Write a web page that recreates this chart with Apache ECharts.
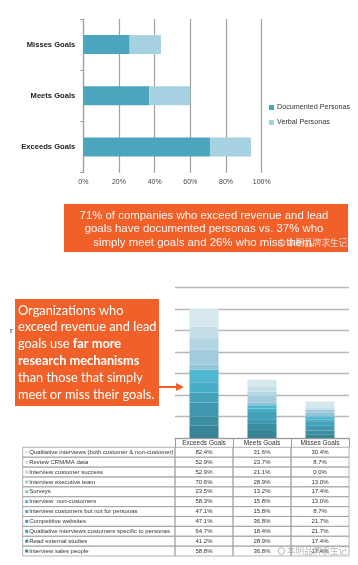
<!DOCTYPE html>
<html><head><meta charset="utf-8">
<script src="https://cdn.jsdelivr.net/npm/echarts@6/dist/echarts.min.js"></script>
<style>html,body{margin:0;padding:0;background:#fff}#c{width:358px;height:565px}</style>
</head><body><div id="c"></div>
<script>
// ---- Top chart data ----
const goalCats = ['Exceeds Goals', 'Meets Goals', 'Misses Goals'];
const documentedPct = [71, 37, 26];
const verbalPct = [23, 23, 17.5];
const pctTicks = [0, 20, 40, 60, 80, 100];

// ---- Bottom chart / table data ----
const methods = [
  'Qualitative interviews (both customer & non-customer)',
  'Review CRM/MA data',
  'Interview customer success',
  'Interview executive team',
  'Surveys',
  'Interview  non-customers',
  'Interview customers but not for personas',
  'Competitive websites',
  'Qualitative interviews customers specific to personas',
  'Read external studies',
  'Interview sales people'
];
const exceedsVals = [82.4, 52.9, 52.9, 70.6, 23.5, 58.3, 47.1, 47.1, 64.7, 41.2, 58.8];
const meetsVals   = [31.6, 23.7, 21.1, 28.9, 13.2, 15.8, 15.8, 36.8, 18.4, 28.9, 36.8];
const missesVals  = [30.4, 8.7, 0.0, 13.0, 17.4, 13.0, 8.7, 21.7, 21.7, 17.4, 17.4];
const stackTicks = [0, 100, 200, 300, 400, 500, 600, 700];

const noteTop = ['71% of companies who exceed revenue and lead',
  'goals have documented personas vs. 37% who',
  'simply meet goals and 26% who miss them.'];
const watermark = '本明品牌求生记';

// styles
const methodColors = ['#D6E7EE', '#C6DEE8', '#B4D5E2', '#A2CCDD', '#91C4D8',
  '#50B7D1', '#48ADC6', '#43A2BA', '#3F98AE', '#3B8EA2', '#378497'];
const ORANGE = '#F2602A';

const chart = echarts.init(document.getElementById('c'), null, {renderer: 'canvas'});

const series = [
  {name: 'Documented Personas', type: 'bar', stack: 'p', xAxisIndex: 0, yAxisIndex: 0,
   barWidth: 19, itemStyle: {color: '#4BA6BD'}, data: documentedPct},
  {name: 'Verbal Personas', type: 'bar', stack: 'p', xAxisIndex: 0, yAxisIndex: 0,
   barWidth: 19, itemStyle: {color: '#A6D1E0'}, data: verbalPct}
];
for (let i = methods.length - 1; i >= 0; i--) {
  series.push({
    name: methods[i], type: 'bar', stack: 'r', xAxisIndex: 1, yAxisIndex: 1,
    barWidth: '50%', itemStyle: {color: methodColors[i]},
    data: [exceedsVals[i], meetsVals[i], missesVals[i]]
  });
}

const FONT = 'Liberation Sans, Arial, sans-serif';

chart.setOption({
  animation: false,
  textStyle: {fontFamily: FONT},
  grid: [
    {left: 83.3, width: 178.4, top: 19, height: 153.7},
    {left: 175, width: 174, top: 287.3, height: 150.7}
  ],
  legend: {
    data: ['Documented Personas', 'Verbal Personas'], orient: 'vertical',
    left: 264, top: 99, itemWidth: 5, itemHeight: 5, itemGap: 8, icon: 'rect',
    textStyle: {fontSize: 7.2, color: '#333', padding: [0, 0, 0, -2]}
  },
  xAxis: [
    {type: 'value', gridIndex: 0, min: pctTicks[0], max: pctTicks[pctTicks.length - 1], interval: 20,
     axisLine: {show: false}, axisTick: {show: false},
     splitLine: {show: true, lineStyle: {color: '#A0A0A0', width: 1.2}},
     axisLabel: {formatter: '{value}%', fontSize: 7, color: '#444', margin: 6}},
    {type: 'category', gridIndex: 1, data: goalCats,
     axisLine: {show: true, lineStyle: {color: '#9A9A9A', width: 1}},
     axisTick: {show: true, length: 9.3, lineStyle: {color: '#9A9A9A'}},
     axisLabel: {fontSize: 6.5, color: '#333', margin: 1.5}}
  ],
  yAxis: [
    {type: 'category', gridIndex: 0, data: goalCats,
     axisLine: {show: true, lineStyle: {color: '#A0A0A0', width: 1.2}},
     axisTick: {show: true, length: 3, lineStyle: {color: '#A0A0A0'}},
     axisLabel: {fontSize: 7.6, fontWeight: 'bold', color: '#222', margin: 8}},
    {type: 'value', gridIndex: 1, min: stackTicks[0], max: stackTicks[stackTicks.length - 1], interval: 100,
     axisLine: {show: false}, axisTick: {show: false}, axisLabel: {show: false},
     splitLine: {show: true, lineStyle: {color: '#B8B8B8', width: 1.3}}}
  ],
  series: series
});

// ---- Build annotations and table from data ----
const g = [];
// Box 1
g.push({type: 'rect', shape: {x: 64, y: 204, width: 284, height: 48}, style: {fill: ORANGE}});
g.push({type: 'text', x: 204, y: 229, style: {
  text: noteTop.join('\n'), fill: '#FFF4EE', fontSize: 11.4, lineHeight: 13.6,
  fontFamily: FONT, align: 'center', verticalAlign: 'middle'}});
g.push({type: 'text', x: 287, y: 243, style: {text: watermark, fill: 'rgba(235,235,235,0.85)',
  fontSize: 8.6, fontFamily: 'Noto Sans CJK SC', verticalAlign: 'middle'}});
g.push({type: 'circle', shape: {cx: 281.5, cy: 243, r: 3.3}, style: {fill: 'none', stroke: 'rgba(220,220,220,0.9)', lineWidth: 1}});

// stray char
g.push({type: 'text', x: 10, y: 331, style: {text: 'r', fill: '#222', fontSize: 8, fontFamily: FONT, verticalAlign: 'middle'}});

// Box 2
g.push({type: 'rect', shape: {x: 15, y: 299, width: 144, height: 107}, style: {fill: ORANGE}});
g.push({type: 'text', x: 18, y: 352.5, style: {
  text: 'Organizations who\nexceed revenue and lead\ngoals use {b|far more}\n{b|research mechanisms}\nthan those that simply\nmeet or miss their goals.',
  fill: '#FFFFFF', fontSize: 12.8, lineHeight: 16.8, fontFamily: 'Lato, sans-serif',
  verticalAlign: 'middle', align: 'left',
  rich: {b: {fontWeight: 'bold', fontSize: 12.8, fill: '#FFFFFF', fontFamily: 'Lato, sans-serif', lineHeight: 16.8}}}});
// Arrow
g.push({type: 'line', shape: {x1: 159, y1: 387, x2: 178, y2: 387}, style: {stroke: ORANGE, lineWidth: 2}});
g.push({type: 'polygon', shape: {points: [[176, 383], [184, 387], [176, 391]]}, style: {fill: ORANGE}});

// Table
const centers = goalCats.map(c => chart.convertToPixel({xAxisIndex: 1}, c));
const bw = centers[1] - centers[0];
const colLeft = centers[0] - bw / 2;
const tLeft = 22.7, rowTop = 447.3, rowH = 9.88;
const cols = [exceedsVals, meetsVals, missesVals];
for (let r = 0; r < methods.length; r++) {
  const y = rowTop + r * rowH;
  g.push({type: 'rect', shape: {x: tLeft, y: y, width: colLeft - tLeft, height: rowH},
    style: {fill: 'none', stroke: '#A0A0A0', lineWidth: 0.8}});
  g.push({type: 'rect', shape: {x: tLeft + 2.5, y: y + rowH / 2 - 1.5, width: 3, height: 3},
    style: {fill: methodColors[r]}});
  g.push({type: 'text', x: tLeft + 6.5, y: y + rowH / 2, style: {text: methods[r], fill: '#333',
    fontSize: 6, fontFamily: FONT, verticalAlign: 'middle'}});
  for (let c = 0; c < 3; c++) {
    g.push({type: 'rect', shape: {x: centers[c] - bw / 2, y: y, width: bw, height: rowH},
      style: {fill: 'none', stroke: '#A0A0A0', lineWidth: 0.8}});
    g.push({type: 'text', x: centers[c], y: y + rowH / 2, style: {text: cols[c][r].toFixed(1) + '%',
      fill: '#333', fontSize: 6, fontFamily: FONT, align: 'center', verticalAlign: 'middle'}});
  }
}
g.push({type: 'text', x: 287, y: 551, style: {text: watermark, fill: 'rgba(160,160,160,0.75)',
  fontSize: 8.6, fontFamily: 'Noto Sans CJK SC', verticalAlign: 'middle'}});
g.push({type: 'circle', shape: {cx: 281.5, cy: 551, r: 3.3}, style: {fill: 'none', stroke: 'rgba(170,170,170,0.8)', lineWidth: 1}});

chart.setOption({graphic: g});
</script></body></html>
